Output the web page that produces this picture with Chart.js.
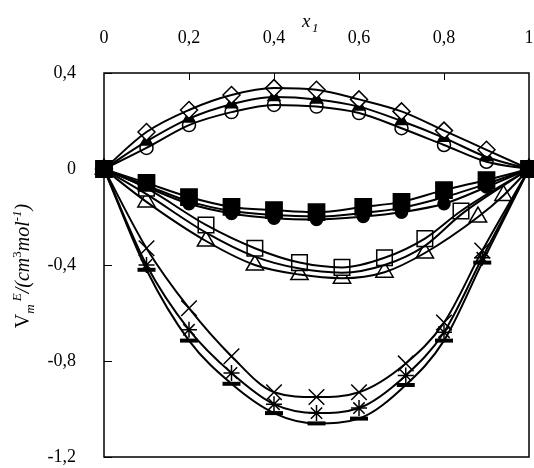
<!DOCTYPE html>
<html>
<head>
<meta charset="utf-8">
<script src="https://cdn.jsdelivr.net/npm/chart.js@4.4.0/dist/chart.umd.min.js"></script>
<style>
  html, body { margin: 0; padding: 0; background: #fff; overflow: hidden; }
  canvas { display: block; }
</style>
</head>
<body>
<canvas id="chart" width="534" height="468"></canvas>
<script>
// x tick values (shown with decimal comma)
const xTicks = [0, 0.2, 0.4, 0.6, 0.8, 1];
const yTicks = [-1.2, -0.8, -0.4, 0, 0.4];

// positive group
const xA = [0, 0.1, 0.2, 0.3, 0.4, 0.5, 0.6, 0.7, 0.8, 0.9, 1];
const diamondY = [0, 0.154, 0.246, 0.308, 0.337, 0.33, 0.29, 0.24, 0.16, 0.08, 0];
const triFillY = [0, 0.115, 0.21, 0.27, 0.30, 0.29, 0.26, 0.20, 0.13, 0.05, 0];
const circOpenY = [0, 0.088, 0.183, 0.237, 0.267, 0.26, 0.233, 0.17, 0.10, 0.03, 0];

// small negative group
const xB = [0, 0.1, 0.2, 0.3, 0.4, 0.5, 0.61, 0.7, 0.8, 0.9, 1];
const sqFillY = [0, -0.058, -0.117, -0.158, -0.171, -0.18, -0.158, -0.137, -0.088, -0.046, 0];
const circFillY = [0, -0.075, -0.145, -0.185, -0.205, -0.21, -0.198, -0.18, -0.145, -0.075, 0];
const midBY = [0, -0.068, -0.135, -0.175, -0.192, -0.198, -0.183, -0.162, -0.118, -0.062, 0];

// middle negative group
const xCs = [0, 0.1, 0.24, 0.355, 0.46, 0.56, 0.66, 0.755, 0.84, 1];
const sqOpenY = [0, -0.08, -0.233, -0.33, -0.39, -0.41, -0.37, -0.29, -0.175, 0];
const midCY = [0, -0.105, -0.265, -0.365, -0.415, -0.432, -0.40, -0.32, -0.19, 0];
const xCt = [0, 0.1, 0.24, 0.355, 0.46, 0.56, 0.66, 0.755, 0.88, 0.94, 1];
const triOpenY = [0, -0.137, -0.30, -0.40, -0.44, -0.455, -0.43, -0.35, -0.2, -0.11, 0];

// large negative group
const xD = [0, 0.1, 0.2, 0.3, 0.4, 0.5, 0.6, 0.71, 0.8, 0.89, 1];
const crossY = [0, -0.33, -0.58, -0.78, -0.93, -0.95, -0.93, -0.81, -0.64, -0.34, 0];
const starY = [0, -0.40, -0.67, -0.85, -0.98, -1.017, -0.996, -0.86, -0.68, -0.37, 0];
const barY = [0, -0.42, -0.715, -0.895, -1.017, -1.06, -1.04, -0.90, -0.715, -0.39, 0];

const serif = "'Liberation Serif', 'Times New Roman', serif";

function pts(xs, ys) {
  return xs.map((x, i) => ({ x: x, y: ys[i] }));
}

function curve(xs, ys) {
  return {
    data: pts(xs, ys),
    showLine: true,
    borderColor: "#000",
    borderWidth: 2,
    pointRadius: 0,
    cubicInterpolationMode: "monotone",
    clip: false,
    order: 0,
  };
}

function marks(xs, ys, style, radius, fill, order, bw) {
  return {
    data: pts(xs, ys),
    showLine: false,
    pointStyle: style,
    pointRadius: radius,
    pointBackgroundColor: fill,
    pointBorderColor: "#000",
    pointBorderWidth: bw || 1.5,
    clip: false,
    order: order,
  };
}

function fmt(v) {
  return String(Math.round(v * 10) / 10).replace(".", ",");
}

// keep the plot box where it is in the original (no label overflow padding)
function noOverflow(s) {
  s.paddingLeft = 0;
  s.paddingRight = 0;
  s.paddingTop = 0;
  s.paddingBottom = 0;
}

// frame, inward tick marks and the two axis titles
const decor = {
  id: "decor",
  beforeDatasetsDraw(chart) {
    const { ctx, chartArea: a } = chart;
    ctx.save();
    ctx.strokeStyle = "#000";
    ctx.lineWidth = 1.5;
    ctx.strokeRect(a.left, a.top, a.right - a.left, a.bottom - a.top);
    ctx.lineWidth = 1;
    ctx.beginPath();
    chart.scales.x.ticks.forEach((t) => {
      if (t.value > 0 && t.value < 1) {
        const px = Math.round(chart.scales.x.getPixelForValue(t.value)) + 0.5;
        ctx.moveTo(px, a.top);
        ctx.lineTo(px, a.top + 7);
      }
    });
    chart.scales.y.ticks.forEach((t) => {
      const py = Math.round(chart.scales.y.getPixelForValue(t.value)) + 0.5;
      ctx.moveTo(a.left, py);
      ctx.lineTo(a.left + 8, py);
    });
    ctx.stroke();
    ctx.restore();
  },
  afterDraw(chart) {
    const ctx = chart.ctx;
    ctx.save();
    ctx.fillStyle = "#000";
    ctx.textBaseline = "alphabetic";
    // x title
    ctx.font = "italic 19px " + serif;
    ctx.fillText("x", 302, 27);
    ctx.font = "italic 13px " + serif;
    ctx.fillText("1", 312, 32);

    // y title, rotated
    const parts = [
      { t: "V", it: false, s: 20, dy: 0 },
      { t: "m", it: true, s: 13, dy: 5 },
      { t: " E", it: true, s: 13, dy: -8 },
      { t: "/(cm", it: true, s: 20, dy: 0 },
      { t: "3", it: false, s: 13, dy: -8 },
      { t: "mol", it: true, s: 20, dy: 0 },
      { t: "-1", it: true, s: 13, dy: -8 },
      { t: ")", it: true, s: 20, dy: 0 },
    ];
    let total = 0;
    parts.forEach((p) => {
      ctx.font = (p.it ? "italic " : "") + p.s + "px " + serif;
      p.w = ctx.measureText(p.t).width;
      total += p.w;
    });
    ctx.translate(29, 266);
    ctx.rotate(-Math.PI / 2);
    let cx = -total / 2;
    parts.forEach((p) => {
      ctx.font = (p.it ? "italic " : "") + p.s + "px " + serif;
      ctx.fillText(p.t, cx, p.dy);
      cx += p.w;
    });
    ctx.restore();
  },
};

const ctx = document.getElementById("chart").getContext("2d");
new Chart(ctx, {
  type: "scatter",
  data: {
    datasets: [
      curve(xA, diamondY),
      curve(xA, triFillY),
      curve(xA, circOpenY),
      curve(xB, sqFillY),
      curve(xB, midBY),
      curve(xB, circFillY),
      curve(xCs, sqOpenY),
      curve(xCs, midCY),
      curve(xCt, triOpenY),
      curve(xD, crossY),
      curve(xD, starY),
      curve(xD, barY),
      marks(xA, circOpenY, "circle", 6.5, "#fff", 6),
      marks(xA, triFillY, "triangle", 7, "#000", 5),
      marks(xA, diamondY, "rectRot", 8.5, "#fff", 4),
      marks(xB, circFillY, "circle", 6, "#000", 6),
      marks(xCt, triOpenY, "triangle", 10, "#fff", 4),
      marks(xCs, sqOpenY, "rect", 11, "#fff", 3),
      marks(xD, barY, "line", 9, "#000", 4, 4),
      marks(xD, starY, "star", 8, "#fff", 3),
      marks(xD, crossY, "crossRot", 11, "#fff", 3),
      marks(xB, sqFillY, "rect", 11.5, "#000", 1),
    ],
  },
  options: {
    responsive: false,
    animation: false,
    devicePixelRatio: 1,
    layout: { autoPadding: false, padding: { left: 0, top: 0, right: 5, bottom: 11 } },
    plugins: {
      legend: { display: false },
      tooltip: { enabled: false },
    },
    scales: {
      x: {
        type: "linear",
        position: "top",
        min: 0,
        max: 1,
        afterBuildTicks: (s) => {
          s.ticks = xTicks.map((v) => ({ value: v }));
        },
        afterFit: (s) => {
          s.height = 73;
          noOverflow(s);
        },
        ticks: {
          padding: 16,
          color: "#000",
          font: { family: serif, size: 18 },
          maxRotation: 0,
          callback: (v) => fmt(v),
        },
        grid: { display: false },
        border: { display: false },
      },
      y: {
        type: "linear",
        min: -1.2,
        max: 0.4,
        afterBuildTicks: (s) => {
          s.ticks = yTicks.map((v) => ({ value: v }));
        },
        afterFit: (s) => {
          s.width = 104;
          noOverflow(s);
        },
        ticks: {
          padding: 20,
          color: "#000",
          font: { family: serif, size: 18 },
          callback: (v) => fmt(v),
        },
        grid: { display: false },
        border: { display: false },
      },
    },
  },
  plugins: [decor],
});
</script>
</body>
</html>
